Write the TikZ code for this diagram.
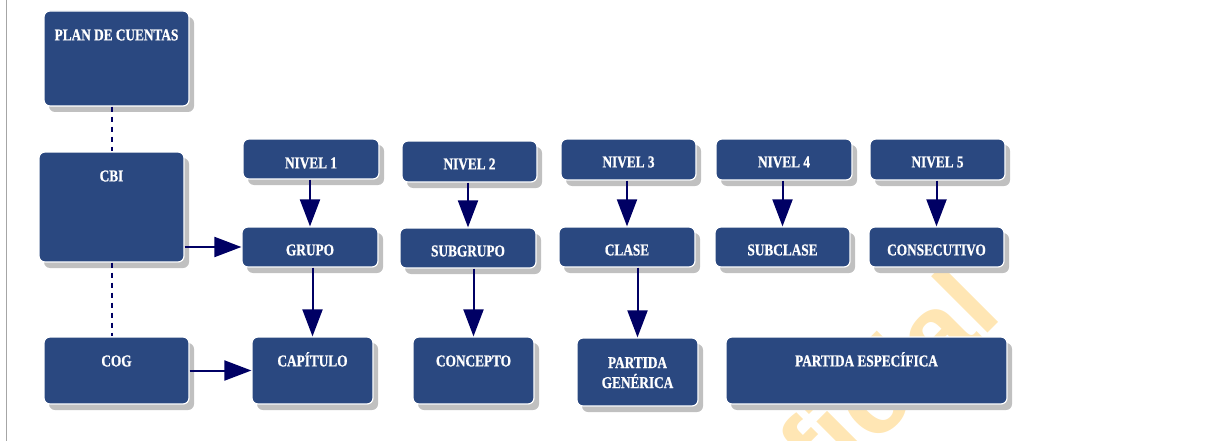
\documentclass[tikz,border=0pt]{standalone}
\usepackage{fontspec}
\setmainfont{Liberation Serif}[FakeStretch=0.8, BoldFeatures={FakeBold=0.8}]
\newfontfamily\wmfont{Liberation Sans}
\usetikzlibrary{arrows.meta,shadows}
\definecolor{boxblue}{RGB}{42,72,128}
\definecolor{arrowblue}{RGB}{0,0,100}
\definecolor{wmorange}{RGB}{255,230,180}
\definecolor{shadowgray}{RGB}{192,192,192}
\tikzset{
  box/.style={draw=white, line width=1.2pt, fill=boxblue, rounded corners=6pt,
    drop shadow={shadow xshift=5pt, shadow yshift=-6pt, fill=shadowgray, opacity=1},
    inner sep=0pt},
  lbl/.style={text=white, font=\fontsize{16.6}{20}\selectfont\bfseries, align=center, inner sep=0pt},
  arr/.style={draw=arrowblue, line width=2pt, -{Triangle[width=20pt,length=27pt]}},
  dashline/.style={draw=arrowblue, line width=2pt, dash pattern=on 5pt off 5pt},
}
\begin{document}
\begin{tikzpicture}[x=1pt,y=-1pt]
\useasboundingbox (0,0) rectangle (1222,441);
% watermark
\begin{scope}
\clip (0,0) rectangle (1222,441);
\node[rotate=45, anchor=base east, text=wmorange, inner sep=0pt,
  font=\wmfont\bfseries\fontsize{110}{110}\selectfont] (wm) at (1004,317) {Oficial};
\end{scope}
% page edge
\draw[line width=1pt, draw=gray!70] (6,0) -- (6,441);
% boxes
\node[box, minimum width=145pt, minimum height=95pt] (plan) at (116.5,58.5) {};
\node[box, minimum width=145pt, minimum height=110pt] (cbi) at (111.5,207) {};
\node[box, minimum width=145pt, minimum height=67pt] (cog) at (116.5,370.5) {};
\node[box, minimum width=136pt, minimum height=40pt] (n1) at (311,159) {};
\node[box, minimum width=136pt, minimum height=40pt] (grupo) at (310,247) {};
\node[box, minimum width=121pt, minimum height=67pt] (cap) at (312.5,370.5) {};
\node[box, minimum width=135pt, minimum height=41pt] (n2) at (469.5,161.5) {};
\node[box, minimum width=136pt, minimum height=40pt] (subg) at (468,248) {};
\node[box, minimum width=121pt, minimum height=67pt] (conc) at (473.5,370.5) {};
\node[box, minimum width=135pt, minimum height=41pt] (n3) at (628.5,159.5) {};
\node[box, minimum width=136pt, minimum height=40pt] (clase) at (627,247) {};
\node[box, minimum width=121pt, minimum height=68pt] (pg) at (637.5,372) {};
\node[box, minimum width=136pt, minimum height=41pt] (n4) at (784,159.5) {};
\node[box, minimum width=135pt, minimum height=40pt] (subc) at (782.5,247) {};
\node[box, minimum width=135pt, minimum height=41pt] (n5) at (937.5,159.5) {};
\node[box, minimum width=135pt, minimum height=40pt] (cons) at (936.5,247) {};
\node[box, minimum width=281pt, minimum height=67pt] (pe) at (866.5,370.5) {};
% labels
\node[lbl, anchor=base] (plan-t) at ([yshift=-30pt]plan.north) {PLAN DE CUENTAS};
\node[lbl, anchor=base] (cbi-t) at ([yshift=-30pt]cbi.north) {CBI};
\node[lbl, anchor=base] (cog-t) at ([yshift=-30pt]cog.north) {COG};
\node[lbl, anchor=base] (n1-t) at ([yshift=-30pt]n1.north) {NIVEL 1};
\node[lbl, anchor=base] (grupo-t) at ([yshift=-29pt]grupo.north) {GRUPO};
\node[lbl, anchor=base] (cap-t) at ([yshift=-30pt]cap.north) {CAPÍTULO};
\node[lbl, anchor=base] (n2-t) at ([yshift=-29pt]n2.north) {NIVEL 2};
\node[lbl, anchor=base] (subg-t) at ([yshift=-29pt]subg.north) {SUBGRUPO};
\node[lbl, anchor=base] (conc-t) at ([yshift=-30pt]conc.north) {CONCEPTO};
\node[lbl, anchor=base] (n3-t) at ([yshift=-29pt]n3.north) {NIVEL 3};
\node[lbl, anchor=base] (clase-t) at ([yshift=-29pt]clase.north) {CLASE};
\node[lbl, anchor=north] (pg-t) at ([yshift=-19.5pt]pg.north) {PARTIDA\\GENÉRICA};
\node[lbl, anchor=base] (n4-t) at ([yshift=-29pt]n4.north) {NIVEL 4};
\node[lbl, anchor=base] (subc-t) at ([yshift=-29pt]subc.north) {SUBCLASE};
\node[lbl, anchor=base] (n5-t) at ([yshift=-29pt]n5.north) {NIVEL 5};
\node[lbl, anchor=base] (cons-t) at ([yshift=-29pt]cons.north) {CONSECUTIVO};
\node[lbl, anchor=base] (pe-t) at ([yshift=-30pt]pe.north) {PARTIDA ESPECÍFICA};
% connectors
\draw[dashline] (plan.south -| cbi.north) -- (cbi.north);
\draw[dashline] (cbi.south) -- (cbi.south |- cog.north);
\draw[arr] (cbi.east |- grupo.west) -- (grupo.west);
\draw[arr] (cog.east) -- (cog.east -| cap.west);
\draw[arr] (grupo.north |- n1.south) -- (grupo.north);
\draw[arr] (subg.north |- n2.south) -- (subg.north);
\draw[arr] (clase.north |- n3.south) -- (clase.north);
\draw[arr] (subc.north |- n4.south) -- (subc.north);
\draw[arr] (cons.north |- n5.south) -- (cons.north);
\draw[arr] (grupo.south -| cap.north) -- (cap.north);
\draw[arr] (subg.south -| conc.north) -- (conc.north);
\draw[arr] (clase.south -| pg.north) -- (pg.north);
\end{tikzpicture}
\end{document}
